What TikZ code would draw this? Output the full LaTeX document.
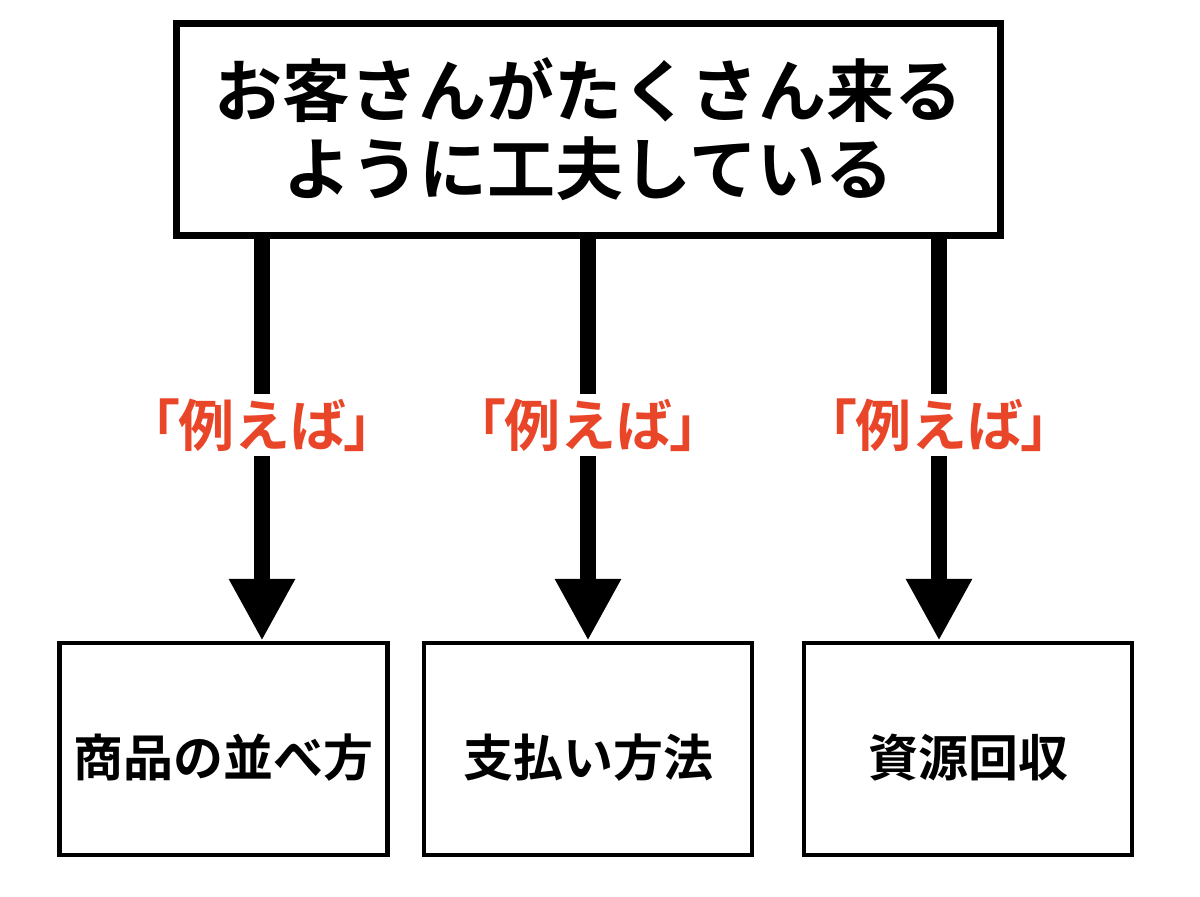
\documentclass[tikz,border=0pt]{standalone}
\usepackage{fontspec}
\newfontfamily\jp{Noto Sans CJK JP}[BoldFont={Noto Sans CJK JP Bold}]
\usetikzlibrary{arrows.meta}
\definecolor{reirot}{RGB}{233,69,40}
\tikzset{
  topbox/.style={draw, line width=7pt, minimum width=824pt, minimum height=212pt,
    align=center, font=\jp\bfseries\fontsize{68pt}{78pt}\selectfont},
  leafbox/.style={draw, line width=4.5pt, minimum width=328pt, minimum height=212pt,
    text height=60pt, text depth=6pt,
    font=\jp\bfseries\fontsize{50pt}{60pt}\selectfont},
  rei/.style={fill=white, inner xsep=6pt, inner ysep=5pt, text=reirot,
    font=\jp\bfseries\fontsize{56pt}{60pt}\selectfont},
  arr/.style={line width=16pt, -{Triangle[width=62pt,length=62pt]}}
}
\newcommand{\reitext}{「\kern-0.05em 例えば\kern-0.05em 」}
\begin{document}
\begin{tikzpicture}[x=1pt,y=1pt,yscale=-1]
\useasboundingbox (0,0) rectangle (1200,897);

% top box
\node[topbox] (top) at (588,129) {お客さんがたくさん来る\\ように工夫している};

% leaf boxes
\node[leafbox] (b1) at (223.6,749) {商品の並べ方};
\node[leafbox] (b2) at (588,749) {支払い方法};
\node[leafbox] (b3) at (968,749) {資源回収};

% label positions
\coordinate (e1) at (262,425);
\coordinate (e2) at (588,425);
\coordinate (e3) at (939,425);

% arrows
\draw[arr] (e1 |- top.south) -- (e1 |- b1.north);
\draw[arr] (e2 |- top.south) -- (e2 |- b2.north);
\draw[arr] (e3 |- top.south) -- (e3 |- b3.north);

% labels
\node[rei] (r1) at (e1) {\reitext};
\node[rei] (r2) at (e2) {\reitext};
\node[rei] (r3) at (e3) {\reitext};

\end{tikzpicture}
\end{document}
